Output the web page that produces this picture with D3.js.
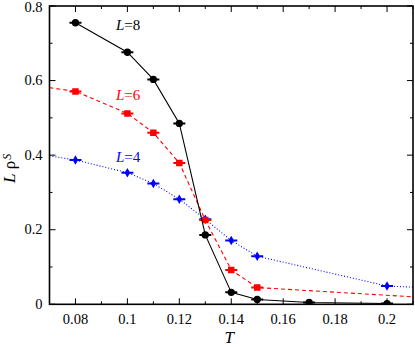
<!DOCTYPE html>
<html><head><meta charset="utf-8">
<script src="https://cdn.jsdelivr.net/npm/d3@7"></script>
<style>body{margin:0;background:#fff}svg{display:block}
text{font-family:"Liberation Serif","Tinos","DejaVu Serif",serif}</style>
</head><body>
<svg id="c" width="415" height="347"></svg>
<script>
const xTicks = [0.08, 0.1, 0.12, 0.14, 0.16, 0.18, 0.2];
const xTickLabels = ["0.08", "0.1", "0.12", "0.14", "0.16", "0.18", "0.2"];
const yTicks = [0, 0.2, 0.4, 0.6, 0.8];
const yTickLabels = ["0", "0.2", "0.4", "0.6", "0.8"];

const T8 = [0.08, 0.1, 0.11, 0.12, 0.13, 0.14, 0.15, 0.17, 0.2];
const L8 = [0.755, 0.676, 0.603, 0.485, 0.186, 0.032, 0.013, 0.005, 0.002];

const T6 = [0.08, 0.1, 0.11, 0.12, 0.13, 0.14, 0.15];
const L6 = [0.571, 0.512, 0.460, 0.379, 0.226, 0.092, 0.045];
const T6line = [0.07, 0.08, 0.1, 0.11, 0.12, 0.13, 0.14, 0.15, 0.21];
const L6line = [0.581, 0.571, 0.512, 0.460, 0.379, 0.226, 0.092, 0.045, 0.020];

const T4 = [0.08, 0.1, 0.11, 0.12, 0.13, 0.14, 0.15, 0.2];
const L4 = [0.387, 0.353, 0.324, 0.282, 0.228, 0.171, 0.129, 0.049];
const T4line = [0.07, 0.08, 0.1, 0.11, 0.12, 0.13, 0.14, 0.15, 0.2, 0.21];
const L4line = [0.398, 0.387, 0.353, 0.324, 0.282, 0.228, 0.171, 0.129, 0.049, 0.046];

const seriesLabels = ["L=8", "L=6", "L=4"];

const svg = d3.select("#c");
const pLeft = 49.5, pRight = 413, pTop = 6, pBottom = 304.3;
const x = d3.scaleLinear().domain([0.07, 0.21]).range([pLeft, pRight]);
const y = d3.scaleLinear().domain([0, 0.8]).range([pBottom, pTop]);

svg.append("clipPath").attr("id", "pc").append("rect")
  .attr("x", pLeft).attr("y", pTop).attr("width", pRight - pLeft).attr("height", pBottom - pTop);

const g = svg.append("g").attr("clip-path", "url(#pc)");
const line = d3.line().x(d => x(d[0])).y(d => y(d[1]));

function drawSeries(Tl, Vl, T, V, color, dash, shape) {
  g.append("path").datum(Tl.map((t, i) => [t, Vl[i]]))
    .attr("d", line).attr("fill", "none").attr("stroke", color)
    .attr("stroke-width", 1.1).attr("stroke-dasharray", dash);
  const pts = T.map((t, i) => [t, V[i]]);
  g.selectAll(null).data(pts).enter().append("line")
    .attr("x1", d => x(d[0]) - 6).attr("x2", d => x(d[0]) + 6)
    .attr("y1", d => y(d[1])).attr("y2", d => y(d[1]))
    .attr("stroke", color).attr("stroke-width", 2);
  const sym = d3.symbol().type(shape === "circle" ? d3.symbolCircle : shape === "square" ? d3.symbolSquare : d3.symbolDiamond)
    .size(shape === "circle" ? 42 : shape === "square" ? 42 : 26);
  g.selectAll(null).data(pts).enter().append("path")
    .attr("d", sym)
    .attr("transform", d => `translate(${x(d[0])},${y(d[1])})`)
    .attr("fill", color);
}

drawSeries(T4line, L4line, T4, L4, "#0000ff", "1,2", "diamond");
drawSeries(T6line, L6line, T6, L6, "#ff0000", "4,3", "square");
drawSeries(T8, L8, T8, L8, "#000000", null, "circle");

svg.append("rect").attr("x", pLeft).attr("y", pTop).attr("width", pRight - pLeft).attr("height", pBottom - pTop)
  .attr("fill", "none").attr("stroke", "#000").attr("stroke-width", 1.6);

const xMinor = d3.range(0.07, 0.2101, 0.01).map(v => +v.toFixed(3));
const yMinor = d3.range(0, 0.801, 0.1).map(v => +v.toFixed(2));
const tk = svg.append("g").attr("stroke", "#000").attr("stroke-width", 1);
xMinor.forEach(v => {
  const major = xTicks.some(t => Math.abs(t - v) < 1e-6);
  const len = major ? 6 : 3;
  tk.append("line").attr("x1", x(v)).attr("x2", x(v)).attr("y1", pBottom).attr("y2", pBottom - len);
  tk.append("line").attr("x1", x(v)).attr("x2", x(v)).attr("y1", pTop).attr("y2", pTop + len);
});
yMinor.forEach(v => {
  const major = yTicks.some(t => Math.abs(t - v) < 1e-6);
  const len = major ? 6 : 3;
  tk.append("line").attr("y1", y(v)).attr("y2", y(v)).attr("x1", pLeft).attr("x2", pLeft + len);
  tk.append("line").attr("y1", y(v)).attr("y2", y(v)).attr("x1", pRight).attr("x2", pRight - len);
});

svg.append("g").selectAll("text").data(xTicks).enter().append("text")
  .attr("x", d => x(d)).attr("y", 324).attr("text-anchor", "middle")
  .attr("font-size", 14.5).text((d, i) => xTickLabels[i]);
svg.append("g").selectAll("text").data(yTicks).enter().append("text")
  .attr("x", 42.5).attr("y", d => Math.max(y(d) + 4.5, 12)).attr("text-anchor", "end")
  .attr("font-size", 14.5).text((d, i) => yTickLabels[i]);

svg.append("text").attr("x", x(0.14) - 2).attr("y", 343).attr("text-anchor", "middle")
  .attr("font-size", 17).attr("font-style", "italic").text("T");
const yl = svg.append("text").attr("transform", `translate(15,183) rotate(-90)`)
  .attr("text-anchor", "start").attr("font-size", 17);
yl.append("tspan").attr("font-style", "italic").text("L");
yl.append("tspan").text(" ρ");
yl.append("tspan").attr("font-size", 12).attr("font-style", "italic").attr("dy", -4).attr("dx", 1).text("S");

const labelData = [
  {t: seriesLabels[0], color: "#000", yv: 0.735},
  {t: seriesLabels[1], color: "#ff0000", yv: 0.548},
  {t: seriesLabels[2], color: "#0000ff", yv: 0.382}
];
labelData.forEach(d => {
  const parts = d.t.split("=");
  const t = svg.append("text").attr("x", 116).attr("y", y(d.yv)).attr("fill", d.color)
    .attr("font-size", 15);
  t.append("tspan").attr("font-style", "italic").text(parts[0]);
  t.append("tspan").text("=" + parts[1]);
});
</script>
</body></html>
